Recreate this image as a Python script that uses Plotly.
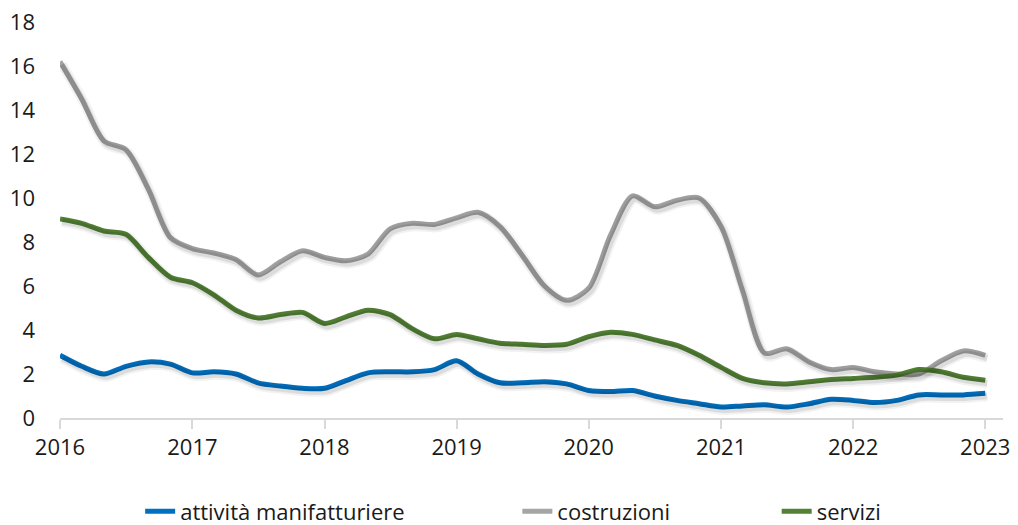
import pandas as pd
import plotly.graph_objects as go

# Bimonthly observations, Jan 2016 - Jan 2023
dates = pd.date_range("2016-01-01", "2023-01-01", freq="2MS")

manifatturiere = [2.85, 2.35, 2.0, 2.35, 2.55, 2.45, 2.05, 2.1, 2.0, 1.6, 1.45, 1.35,
                  1.35, 1.7, 2.05, 2.1, 2.1, 2.2, 2.6, 2.0, 1.6, 1.6, 1.65, 1.55,
                  1.25, 1.2, 1.25, 1.0, 0.8, 0.65, 0.5, 0.55, 0.6, 0.5, 0.65, 0.85,
                  0.8, 0.7, 0.8, 1.05, 1.05, 1.05, 1.12]
costruzioni = [16.2, 14.5, 12.6, 12.2, 10.4, 8.2, 7.7, 7.5, 7.2, 6.5, 7.1, 7.6,
               7.3, 7.15, 7.45, 8.6, 8.85, 8.8, 9.1, 9.35, 8.7, 7.4, 6.0, 5.35,
               5.9, 8.3, 10.1, 9.6, 9.9, 10.0, 8.7, 5.8, 2.95, 3.15, 2.55, 2.2,
               2.3, 2.1, 2.0, 2.0, 2.6, 3.05, 2.85]
servizi = [9.05, 8.85, 8.5, 8.35, 7.3, 6.4, 6.15, 5.6, 4.9, 4.55, 4.7, 4.8,
           4.3, 4.6, 4.9, 4.7, 4.05, 3.6, 3.8, 3.6, 3.4, 3.35, 3.3, 3.35,
           3.7, 3.9, 3.8, 3.55, 3.3, 2.85, 2.3, 1.8, 1.6, 1.55, 1.65, 1.75,
           1.8, 1.85, 1.95, 2.2, 2.1, 1.85, 1.72]

years = [2016, 2017, 2018, 2019, 2020, 2021, 2022, 2023]
y_ticks = [0, 2, 4, 6, 8, 10, 12, 14, 16, 18]

series = [
    ("costruzioni", costruzioni, "#A5A5A5", "legend2"),
    ("servizi", servizi, "#548235", "legend3"),
    ("attività manifatturiere", manifatturiere, "#0070C0", "legend"),
]

x_start = pd.Timestamp("2016-01-01")
x_end = pd.Timestamp("2023-02-19")
px_per_day = 132.1 / 365.25
shift_days = pd.Timedelta(days=2 / px_per_day)
y_shift = 3 / 22

fig = go.Figure()

# soft drop shadow drawn on offset overlay axes
for name, vals, color, lg in series:
    for w, a in [(10, 0.05), (6, 0.09)]:
        fig.add_trace(go.Scatter(
            x=dates, y=vals, mode="lines", line=dict(color=f"rgba(0,0,0,{a})", width=w,
                                                       shape="spline", smoothing=0.8),
            xaxis="x2", yaxis="y2", showlegend=False, hoverinfo="skip"))

for name, vals, color, lg in series:
    fig.add_trace(go.Scatter(
        x=dates, y=vals, mode="lines", name=name, legend=lg,
        line=dict(color=color, width=5, shape="spline", smoothing=0.8)))

font = dict(family="Open Sans, Noto Sans, sans-serif", size=22, color="#1a1a1a")

legend_common = dict(orientation="h", yref="container", y=0.026, xanchor="left",
                     yanchor="middle", font=font, bgcolor="rgba(0,0,0,0)")

fig.update_layout(
    width=1018, height=525,
    margin=dict(l=60, r=15, t=22, b=107),
    plot_bgcolor="white", paper_bgcolor="white",
    font=font,
    xaxis=dict(
        range=[x_start, x_end], type="date",
        tickvals=[pd.Timestamp(f"{y}-01-01") for y in years],
        ticktext=[str(y) for y in years],
        showgrid=False, zeroline=False,
        showline=True, linecolor="#D9D9D9", linewidth=1.5,
        ticks="outside", ticklen=9, tickcolor="#D9D9D9", tickwidth=1.5,
        tickfont=font, automargin=False,
    ),
    yaxis=dict(
        range=[0, 18], tickvals=y_ticks,
        showgrid=False, zeroline=False, showline=False,
        tickfont=font, ticklabelstandoff=24, automargin=False,
    ),
    xaxis2=dict(range=[x_start - shift_days, x_end - shift_days], type="date",
                overlaying="x", visible=False),
    yaxis2=dict(range=[y_shift, 18 + y_shift], overlaying="y", visible=False),
    legend=dict(x=0.085, **legend_common),
    legend2=dict(x=0.485, **legend_common),
    legend3=dict(x=0.760, **legend_common),
)

fig.write_html("out.html")
